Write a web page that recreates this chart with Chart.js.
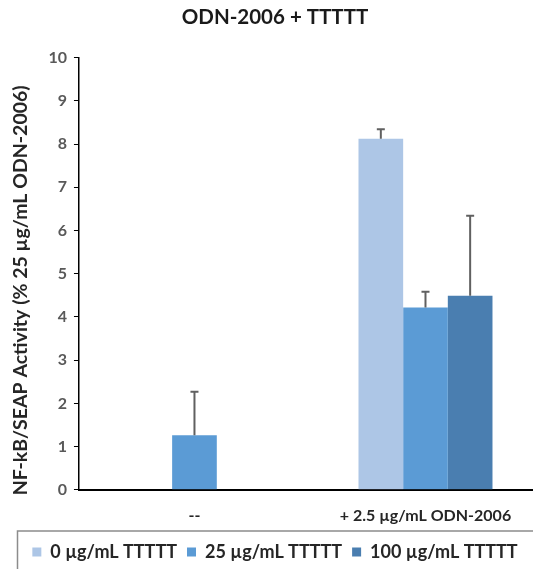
<!DOCTYPE html>
<html>
<head>
<meta charset="utf-8">
<script src="https://cdn.jsdelivr.net/npm/chart.js@4"></script>
<style>
  html, body { margin: 0; padding: 0; background: #fff; overflow: hidden; }
  #wrap { width: 545px; height: 580px; position: relative; }
</style>
</head>
<body>
<div id="wrap"><canvas id="c" width="545" height="580"></canvas></div>
<script>
const categories = ['--', '+ 2.5 \u00b5g/mL ODN-2006'];
const seriesNames = ['0 \u00b5g/mL TTTTT', '25 \u00b5g/mL TTTTT', '100 \u00b5g/mL TTTTT'];
const values0 = [null, 8.12];
const values25 = [1.26, 4.22];
const values100 = [null, 4.49];
const errors0 = [null, 0.22];
const errors25 = [1.01, 0.36];
const errors100 = [null, 1.85];
const yTicks = [0, 1, 2, 3, 4, 5, 6, 7, 8, 9, 10];

const colors = ['#adc6e6', '#5b9bd5', '#4a7eb0'];
const FONT = 'Lato, "Open Sans", sans-serif';

const errorBars = {
  id: 'errorBars',
  afterDatasetsDraw(chart) {
    const ctx = chart.ctx;
    const y = chart.scales.y;
    ctx.save();
    ctx.strokeStyle = '#606060';
    ctx.lineWidth = 2;
    chart.data.datasets.forEach((ds, i) => {
      const meta = chart.getDatasetMeta(i);
      meta.data.forEach((bar, j) => {
        const v = ds.data[j];
        const e = ds.errors[j];
        if (v == null || e == null) return;
        const top = y.getPixelForValue(v + e);
        ctx.beginPath();
        ctx.moveTo(bar.x, bar.y);
        ctx.lineTo(bar.x, top);
        ctx.moveTo(bar.x - 4, top);
        ctx.lineTo(bar.x + 4, top);
        ctx.stroke();
      });
    });
    ctx.restore();
  }
};

const legendBox = {
  id: 'legendBox',
  afterDraw(chart) {
    const l = chart.legend;
    const ctx = chart.ctx;
    ctx.save();
    ctx.strokeStyle = '#8c8c8c';
    ctx.lineWidth = 1.5;
    ctx.strokeRect(17.5, l.top - 2, chart.width, 60);
    ctx.restore();
  }
};

new Chart(document.getElementById('c'), {
  type: 'bar',
  data: {
    labels: categories,
    datasets: [
      { label: seriesNames[0], data: values0, errors: errors0, backgroundColor: colors[0] },
      { label: seriesNames[1], data: values25, errors: errors25, backgroundColor: colors[1] },
      { label: seriesNames[2], data: values100, errors: errors100, backgroundColor: colors[2] }
    ]
  },
  options: {
    responsive: false,
    animation: false,
    devicePixelRatio: 1,
    layout: { padding: { left: 9, right: 4, top: 5, bottom: 9 } },
    datasets: { bar: { categoryPercentage: 0.58, barPercentage: 1.0 } },
    plugins: {
      title: {
        display: true,
        text: 'ODN-2006 + TTTTT',
        color: '#1a1a1a',
        font: { family: FONT, size: 20.5, weight: 'bold' },
        padding: { top: 0, bottom: 28 }
      },
      legend: {
        position: 'bottom',
        labels: {
          color: '#262626',
          font: { family: FONT, size: 18, weight: 'bold' },
          boxWidth: 9,
          boxHeight: 9,
          padding: 10
        }
      },
      tooltip: { enabled: false }
    },
    scales: {
      x: {
        grid: { display: false },
        border: { color: '#000', width: 2 },
        ticks: { color: '#262626', font: { family: FONT, size: 16, weight: 'bold' }, padding: 8 }
      },
      y: {
        min: 0, max: 10,
        afterBuildTicks(scale) { scale.ticks = yTicks.map(v => ({ value: v })); },
        grid: { drawOnChartArea: false, drawTicks: true, tickLength: 5, color: '#000' },
        border: { color: '#000', width: 1.5 },
        ticks: { color: '#595959', font: { family: FONT, size: 16, weight: 'bold' }, padding: 7 },
        title: {
          display: true,
          text: 'NF-kB/SEAP Activity (% 25 \u00b5g/mL ODN-2006)       ',
          color: '#262626',
          font: { family: FONT, size: 19.5, weight: 'bold' },
          padding: { top: 0, bottom: 9 }
        }
      }
    }
  },
  plugins: [errorBars, legendBox]
});
</script>
</body>
</html>
